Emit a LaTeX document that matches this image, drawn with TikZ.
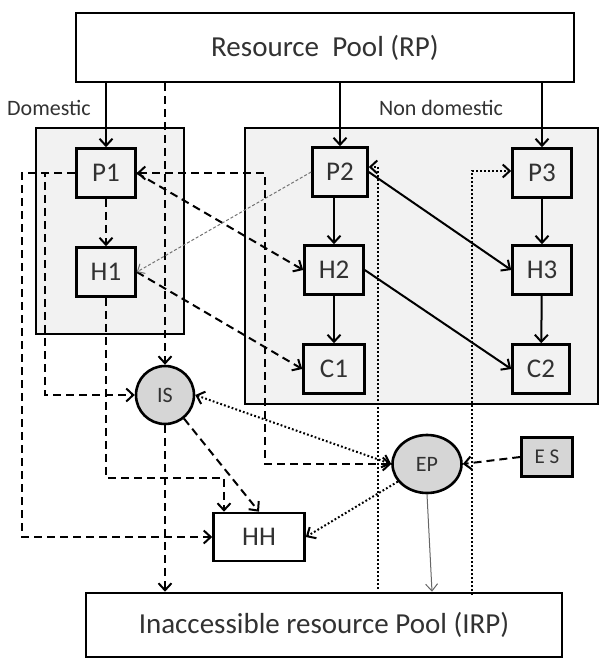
\documentclass[tikz,border=0pt]{standalone}
\usepackage{fontspec}
\setmainfont{Carlito}
\usetikzlibrary{arrows.meta,shapes.geometric}

\definecolor{boxgray}{RGB}{242,242,242}
\definecolor{blobgray}{RGB}{214,214,214}
\definecolor{inkgray}{RGB}{50,50,50}

\tikzset{
	pool/.style={draw, line width=2.6pt, fill=white, inner sep=0pt, text=inkgray, font=\fontsize{29}{34}\selectfont},
	unit/.style={draw, line width=2.6pt, fill=boxgray, inner sep=0pt, minimum width=59pt, minimum height=49pt, text=inkgray, font=\fontsize{27}{32}\selectfont},
	blob/.style={draw, line width=2.6pt, fill=blobgray, inner sep=0pt, text=inkgray, font=\fontsize{22}{26}\selectfont},
	zone/.style={draw, line width=2.6pt, fill=boxgray},
	tag/.style={text=inkgray, font=\fontsize{22}{26}\selectfont},
	tip/.tip={Straight Barb[length=7pt,width=13pt]},
	flow/.style={line width=2pt, -tip},
	dashflow/.style={flow, dash pattern=on 8pt off 5pt},
	dotflow/.style={flow, dash pattern=on 1.8pt off 2.2pt},
	faintflow/.style={line width=1pt, black!55, dash pattern=on 3pt off 2pt, -{Straight Barb[length=6pt,width=11pt]}},
	thinflow/.style={line width=1pt, black!60, -{Straight Barb[length=7pt,width=12pt]}},
}

\begin{document}
\begin{tikzpicture}[x=1pt, y=-1pt]
		%%%%% START %%%%%
		\useasboundingbox (0,0) rectangle (600,661);
		
		% sector frames
		\draw[zone] (36,128) rectangle (184,334);
		\draw[zone] (245,128) rectangle (598,404);
		
		\node[tag] (dom) at (49,108) {Domestic};
		\node[tag] (nondom) at (441,108) {Non domestic};
		
		% pools
		\node[pool, minimum width=498pt, minimum height=69pt] (RP) at (325,47.5) {Resource~~Pool (RP)};
		\node[pool, minimum width=476pt, minimum height=64pt] (IRP) at (324,625) {Inaccessible resource Pool (IRP)};
		
		% sector units
		\node[unit] (P1) at (106,173) {P1};
		\node[unit] (H1) at (106,272) {H1};
		\node[unit, minimum width=55pt] (P2) at (340,172) {P2};
		\node[unit] (H2) at (334,270) {H2};
		\node[unit, minimum width=61pt] (C1) at (334,369) {C1};
		\node[unit] (P3) at (542,173) {P3};
		\node[unit] (H3) at (542,270) {H3};
		\node[unit, minimum width=57pt] (C2) at (541,369) {C2};
		
		\node[blob, circle, minimum size=58pt] (IS) at (165,395) {IS};
		\node[blob, ellipse, minimum width=69pt, minimum height=58pt] (EP) at (427,464) {EP};
		\node[blob, minimum width=51pt, minimum height=39pt, font=\fontsize{21}{25}\selectfont] (ES) at (547,457) {E S};
		\node[pool, minimum width=91pt, minimum height=48pt, font=\fontsize{27}{32}\selectfont] (HH) at (259,537) {HH};
		
		\coordinate (riseA) at (378,589);
		\coordinate (riseB) at (472,595);
		
		% supply from the pool
		\draw[flow] (RP.south -| P1.north) -- (P1.north);
		\draw[flow] (RP.south -| P2.north) -- (P2.north);
		\draw[flow] (RP.south -| P3.north) -- (P3.north);
		\draw[dashflow] (RP.south -| IS.north) -- (IS.north);
		
		% inside the sectors
		\draw[dashflow] (P1) -- (H1);
		\draw[flow] (P2.south -| H2.north) -- (H2.north);
		\draw[flow] (H2) -- (C1);
		\draw[flow] (P3) -- (H3);
		\draw[flow] (H3) -- (C2);
		\draw[flow] (P2.east) -- (H3.west);
		\draw[flow] (H2.east) -- (C2.west);
		\draw[dashflow] (P1.east) -- (H2.west);
		\draw[dashflow] (H1.east) -- (C1.west);
		\draw[faintflow] (P2.west) -- (H1.east);
		
		% leaks
		\draw[dashflow, tip-tip] (P1.east) -- ++(128,0) |- (EP.west);
		\draw[dashflow] (P1.west) -- ++(-30,0) |- (IS.west);
		\draw[dashflow] (P1.west) -- ++(-53,0) |- (HH.west);
		\draw[dashflow] (H1.south) -- ++(0,180) -| ([xshift=-35pt]HH.north);
		\draw[dashflow] (IS) -- (HH.north);
		\draw[dashflow] (IS.south) -- (IS.south |- IRP.north);
		\draw[dotflow, tip-tip] (IS.east) -- (EP.west);
		\draw[dotflow] (EP) -- (HH.east);
		\draw[thinflow] (EP.south) -- ([xshift=5pt]EP.south |- IRP.north);
		\draw[dashflow] (ES.west) -- (EP.east);
		\draw[dotflow] (riseA) |- ([yshift=5pt]P2.east);
		\draw[dotflow] (riseB) |- ([yshift=2pt]P3.west);
		
		%%%%% END %%%%%
	\end{tikzpicture}
\end{document}
